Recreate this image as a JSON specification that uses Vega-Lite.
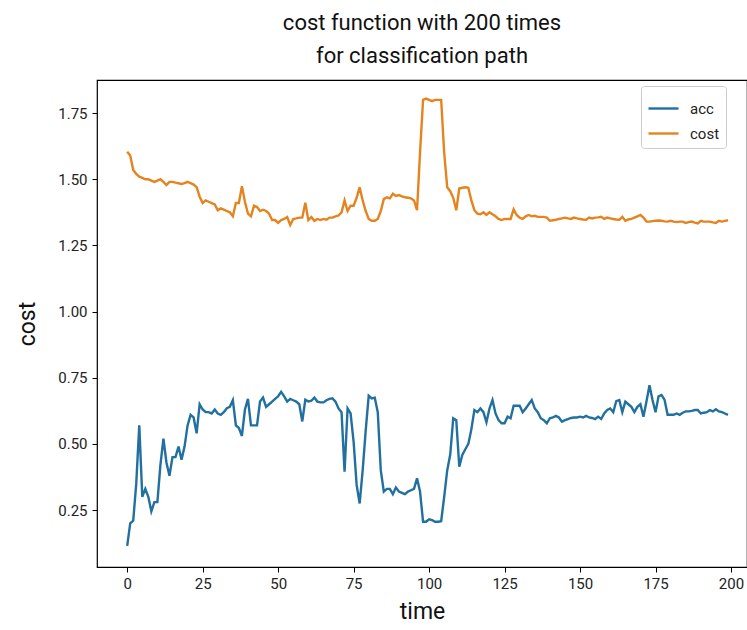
{
  "$schema": "https://vega.github.io/schema/vega-lite/v6.json",
  "autosize": "none",
  "padding": {"left": 97, "top": 80, "right": 0, "bottom": 63},
  "width": 650,
  "height": 487,
  "background": "white",
  "config": {
    "font": "Roboto",
    "view": {"stroke": "#000000", "strokeWidth": 1.2},
    "axis": {"grid": false, "domain": false, "tickColor": "#000000", "tickSize": 5, "tickWidth": 1, "labelColor": "#222222", "labelFontSize": 15, "labelFont": "Roboto", "titleFont": "Roboto", "titleFontWeight": "normal", "titleColor": "#111111", "titleFontSize": 23}
  },
  "title": {"text": ["cost function with 200 times", "for classification path"], "fontSize": 22, "fontWeight": "normal", "font": "Roboto", "color": "#111111", "anchor": "middle", "offset": 12, "lineHeight": 33},
  "datasets": {
    "d": [
      {"t":0,"acc":0.115,"cost":1.604},{"t":1,"acc":0.2,"cost":1.59},{"t":2,"acc":0.21,"cost":1.535},{"t":3,"acc":0.35,"cost":1.52},{"t":4,"acc":0.57,"cost":1.51},
      {"t":5,"acc":0.3,"cost":1.505},{"t":6,"acc":0.33,"cost":1.5},{"t":7,"acc":0.3,"cost":1.5},{"t":8,"acc":0.245,"cost":1.495},{"t":9,"acc":0.28,"cost":1.49},
      {"t":10,"acc":0.28,"cost":1.495},{"t":11,"acc":0.42,"cost":1.5},{"t":12,"acc":0.52,"cost":1.49},{"t":13,"acc":0.43,"cost":1.478},{"t":14,"acc":0.38,"cost":1.49},
      {"t":15,"acc":0.45,"cost":1.49},{"t":16,"acc":0.45,"cost":1.487},{"t":17,"acc":0.49,"cost":1.485},{"t":18,"acc":0.44,"cost":1.482},{"t":19,"acc":0.49,"cost":1.485},
      {"t":20,"acc":0.57,"cost":1.49},{"t":21,"acc":0.61,"cost":1.485},{"t":22,"acc":0.6,"cost":1.48},{"t":23,"acc":0.54,"cost":1.47},{"t":24,"acc":0.65,"cost":1.434},
      {"t":25,"acc":0.63,"cost":1.41},{"t":26,"acc":0.62,"cost":1.42},{"t":27,"acc":0.62,"cost":1.415},{"t":28,"acc":0.615,"cost":1.41},{"t":29,"acc":0.63,"cost":1.405},
      {"t":30,"acc":0.615,"cost":1.383},{"t":31,"acc":0.61,"cost":1.39},{"t":32,"acc":0.62,"cost":1.385},{"t":33,"acc":0.635,"cost":1.38},{"t":34,"acc":0.64,"cost":1.375},
      {"t":35,"acc":0.665,"cost":1.36},{"t":36,"acc":0.57,"cost":1.41},{"t":37,"acc":0.56,"cost":1.41},{"t":38,"acc":0.53,"cost":1.474},{"t":39,"acc":0.63,"cost":1.415},
      {"t":40,"acc":0.67,"cost":1.37},{"t":41,"acc":0.57,"cost":1.36},{"t":42,"acc":0.57,"cost":1.4},{"t":43,"acc":0.57,"cost":1.395},{"t":44,"acc":0.66,"cost":1.38},
      {"t":45,"acc":0.675,"cost":1.385},{"t":46,"acc":0.64,"cost":1.38},{"t":47,"acc":0.65,"cost":1.37},{"t":48,"acc":0.66,"cost":1.346},{"t":49,"acc":0.67,"cost":1.346},
      {"t":50,"acc":0.68,"cost":1.335},{"t":51,"acc":0.697,"cost":1.346},{"t":52,"acc":0.68,"cost":1.35},{"t":53,"acc":0.66,"cost":1.357},{"t":54,"acc":0.67,"cost":1.327},
      {"t":55,"acc":0.665,"cost":1.35},{"t":56,"acc":0.66,"cost":1.352},{"t":57,"acc":0.65,"cost":1.355},{"t":58,"acc":0.585,"cost":1.355},{"t":59,"acc":0.667,"cost":1.411},
      {"t":60,"acc":0.66,"cost":1.346},{"t":61,"acc":0.663,"cost":1.357},{"t":62,"acc":0.675,"cost":1.343},{"t":63,"acc":0.66,"cost":1.35},{"t":64,"acc":0.657,"cost":1.346},
      {"t":65,"acc":0.657,"cost":1.35},{"t":66,"acc":0.665,"cost":1.347},{"t":67,"acc":0.67,"cost":1.355},{"t":68,"acc":0.672,"cost":1.355},{"t":69,"acc":0.66,"cost":1.36},
      {"t":70,"acc":0.634,"cost":1.363},{"t":71,"acc":0.62,"cost":1.375},{"t":72,"acc":0.395,"cost":1.42},{"t":73,"acc":0.634,"cost":1.38},{"t":74,"acc":0.615,"cost":1.4},
      {"t":75,"acc":0.508,"cost":1.4},{"t":76,"acc":0.345,"cost":1.43},{"t":77,"acc":0.275,"cost":1.47},{"t":78,"acc":0.4,"cost":1.42},{"t":79,"acc":0.55,"cost":1.38},
      {"t":80,"acc":0.682,"cost":1.35},{"t":81,"acc":0.672,"cost":1.343},{"t":82,"acc":0.675,"cost":1.343},{"t":83,"acc":0.62,"cost":1.35},{"t":84,"acc":0.4,"cost":1.38},
      {"t":85,"acc":0.32,"cost":1.425},{"t":86,"acc":0.33,"cost":1.432},{"t":87,"acc":0.33,"cost":1.428},{"t":88,"acc":0.31,"cost":1.445},{"t":89,"acc":0.335,"cost":1.437},
      {"t":90,"acc":0.32,"cost":1.44},{"t":91,"acc":0.315,"cost":1.435},{"t":92,"acc":0.31,"cost":1.432},{"t":93,"acc":0.32,"cost":1.43},{"t":94,"acc":0.325,"cost":1.428},
      {"t":95,"acc":0.33,"cost":1.42},{"t":96,"acc":0.37,"cost":1.383},{"t":97,"acc":0.32,"cost":1.6},{"t":98,"acc":0.206,"cost":1.8},{"t":99,"acc":0.206,"cost":1.805},
      {"t":100,"acc":0.215,"cost":1.8},{"t":101,"acc":0.212,"cost":1.795},{"t":102,"acc":0.206,"cost":1.8},{"t":103,"acc":0.206,"cost":1.8},{"t":104,"acc":0.208,"cost":1.8},
      {"t":105,"acc":0.3,"cost":1.6},{"t":106,"acc":0.4,"cost":1.47},{"t":107,"acc":0.46,"cost":1.455},{"t":108,"acc":0.597,"cost":1.43},{"t":109,"acc":0.59,"cost":1.383},
      {"t":110,"acc":0.414,"cost":1.465},{"t":111,"acc":0.458,"cost":1.468},{"t":112,"acc":0.48,"cost":1.47},{"t":113,"acc":0.5,"cost":1.468},{"t":114,"acc":0.555,"cost":1.42},
      {"t":115,"acc":0.628,"cost":1.383},{"t":116,"acc":0.62,"cost":1.37},{"t":117,"acc":0.634,"cost":1.368},{"t":118,"acc":0.62,"cost":1.375},{"t":119,"acc":0.582,"cost":1.365},
      {"t":120,"acc":0.634,"cost":1.375},{"t":121,"acc":0.666,"cost":1.368},{"t":122,"acc":0.615,"cost":1.36},{"t":123,"acc":0.59,"cost":1.35},{"t":124,"acc":0.578,"cost":1.346},
      {"t":125,"acc":0.578,"cost":1.35},{"t":126,"acc":0.603,"cost":1.35},{"t":127,"acc":0.597,"cost":1.35},{"t":128,"acc":0.644,"cost":1.386},{"t":129,"acc":0.644,"cost":1.365},
      {"t":130,"acc":0.644,"cost":1.355},{"t":131,"acc":0.62,"cost":1.35},{"t":132,"acc":0.634,"cost":1.36},{"t":133,"acc":0.65,"cost":1.365},{"t":134,"acc":0.666,"cost":1.36},
      {"t":135,"acc":0.634,"cost":1.362},{"t":136,"acc":0.62,"cost":1.358},{"t":137,"acc":0.597,"cost":1.358},{"t":138,"acc":0.59,"cost":1.358},{"t":139,"acc":0.578,"cost":1.355},
      {"t":140,"acc":0.597,"cost":1.343},{"t":141,"acc":0.6,"cost":1.345},{"t":142,"acc":0.606,"cost":1.347},{"t":143,"acc":0.6,"cost":1.35},{"t":144,"acc":0.584,"cost":1.352},
      {"t":145,"acc":0.59,"cost":1.355},{"t":146,"acc":0.594,"cost":1.352},{"t":147,"acc":0.598,"cost":1.35},{"t":148,"acc":0.6,"cost":1.355},{"t":149,"acc":0.6,"cost":1.352},
      {"t":150,"acc":0.603,"cost":1.35},{"t":151,"acc":0.6,"cost":1.348},{"t":152,"acc":0.606,"cost":1.347},{"t":153,"acc":0.6,"cost":1.355},{"t":154,"acc":0.598,"cost":1.352},
      {"t":155,"acc":0.594,"cost":1.355},{"t":156,"acc":0.603,"cost":1.356},{"t":157,"acc":0.594,"cost":1.358},{"t":158,"acc":0.615,"cost":1.35},{"t":159,"acc":0.628,"cost":1.355},
      {"t":160,"acc":0.634,"cost":1.352},{"t":161,"acc":0.62,"cost":1.35},{"t":162,"acc":0.662,"cost":1.348},{"t":163,"acc":0.666,"cost":1.347},{"t":164,"acc":0.62,"cost":1.358},
      {"t":165,"acc":0.66,"cost":1.343},{"t":166,"acc":0.65,"cost":1.348},{"t":167,"acc":0.64,"cost":1.35},{"t":168,"acc":0.62,"cost":1.355},{"t":169,"acc":0.64,"cost":1.36},
      {"t":170,"acc":0.65,"cost":1.365},{"t":171,"acc":0.603,"cost":1.355},{"t":172,"acc":0.66,"cost":1.34},{"t":173,"acc":0.722,"cost":1.34},{"t":174,"acc":0.666,"cost":1.342},
      {"t":175,"acc":0.62,"cost":1.343},{"t":176,"acc":0.68,"cost":1.344},{"t":177,"acc":0.685,"cost":1.343},{"t":178,"acc":0.666,"cost":1.341},{"t":179,"acc":0.61,"cost":1.34},
      {"t":180,"acc":0.61,"cost":1.343},{"t":181,"acc":0.61,"cost":1.34},{"t":182,"acc":0.615,"cost":1.338},{"t":183,"acc":0.61,"cost":1.34},{"t":184,"acc":0.618,"cost":1.34},
      {"t":185,"acc":0.623,"cost":1.335},{"t":186,"acc":0.623,"cost":1.338},{"t":187,"acc":0.625,"cost":1.34},{"t":188,"acc":0.628,"cost":1.336},{"t":189,"acc":0.628,"cost":1.333},
      {"t":190,"acc":0.615,"cost":1.343},{"t":191,"acc":0.618,"cost":1.34},{"t":192,"acc":0.62,"cost":1.34},{"t":193,"acc":0.628,"cost":1.34},{"t":194,"acc":0.623,"cost":1.337},
      {"t":195,"acc":0.631,"cost":1.335},{"t":196,"acc":0.623,"cost":1.343},{"t":197,"acc":0.62,"cost":1.34},{"t":198,"acc":0.615,"cost":1.343},{"t":199,"acc":0.61,"cost":1.345}
    ]
  },
  "data": {"name": "d"},
  "transform": [{"fold": ["acc", "cost"], "as": ["series", "value"]}],
  "mark": {"type": "line", "strokeWidth": 2.4, "interpolate": "linear", "clip": true},
  "encoding": {
    "x": {"field": "t", "type": "quantitative", "title": "time",
      "scale": {"domain": [-10, 205.3], "nice": false, "zero": false},
      "axis": {"values": [0, 25, 50, 75, 100, 125, 150, 175, 200], "titlePadding": 9, "labelPadding": 4}},
    "y": {"field": "value", "type": "quantitative", "title": "cost",
      "scale": {"domain": [0.035, 1.875], "nice": false, "zero": false},
      "axis": {"values": [0.25, 0.5, 0.75, 1.0, 1.25, 1.5, 1.75], "format": ".2f", "titlePadding": 18, "labelPadding": 5}},
    "color": {"field": "series", "type": "nominal",
      "scale": {"domain": ["acc", "cost"], "range": ["#21709f", "#e5841f"]},
      "legend": {"title": null, "orient": "none", "legendX": 544, "legendY": 6,
        "symbolType": "stroke", "symbolSize": 900, "symbolStrokeWidth": 2.4,
        "labelFontSize": 15, "labelFont": "Roboto", "labelColor": "#222222", "rowPadding": 0,
        "padding": 6, "strokeColor": "#cccccc", "fillColor": "white", "cornerRadius": 3, "labelOffset": 10}}
  }
}
